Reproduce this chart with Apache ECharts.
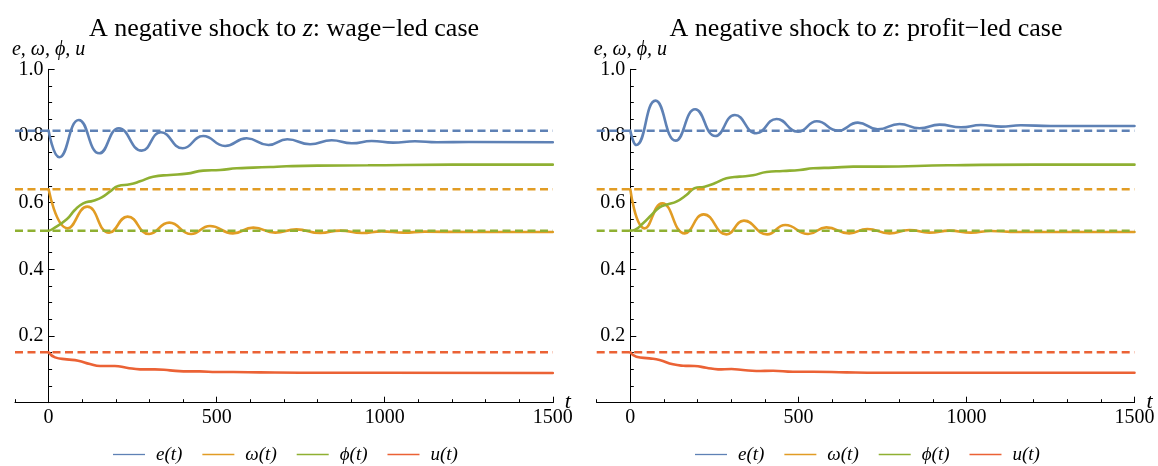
<!DOCTYPE html>
<html>
<head>
<meta charset="utf-8">
<script src="https://cdn.jsdelivr.net/npm/echarts@6/dist/echarts.min.js"></script>
<style>
  html, body { margin: 0; padding: 0; background: #fff; }
  #chart { width: 1158px; height: 466px; }
</style>
</head>
<body>
<div id="chart"></div>
<script>
// Wage-led case: [t, value]
const eWage = [[0,0.816],[32,0.736],[90,0.848],[151,0.748],[209,0.823],[277,0.756],[334,0.811],[399,0.763],[460,0.800],[525,0.770],[589,0.793],[654,0.773],[710,0.790],[778,0.775],[842,0.787],[902,0.778],[961,0.785],[1025,0.780],[1090,0.784],[1155,0.781],[1250,0.782],[1500,0.781]];
const omegaWage = [[0,0.640],[57,0.523],[115,0.588],[180,0.510],[235,0.558],[299,0.506],[359,0.540],[424,0.506],[480,0.530],[548,0.508],[609,0.525],[674,0.510],[737,0.520],[808,0.509],[867,0.516],[932,0.509],[991,0.514],[1056,0.510],[1120,0.513],[1250,0.512],[1500,0.512]];
const phiWage = [[0,0.516],[12,0.521],[54,0.550],[78,0.578],[103,0.598],[133,0.606],[158,0.616],[182,0.633],[207,0.650],[242,0.655],[272,0.664],[311,0.678],[361,0.683],[411,0.687],[460,0.696],[510,0.698],[560,0.703],[609,0.705],[659,0.707],[708,0.709],[800,0.711],[950,0.712],[1200,0.714],[1500,0.714]];
const uWage = [[0,0.151],[19,0.136],[54,0.130],[88,0.126],[123,0.116],[153,0.110],[197,0.110],[232,0.105],[272,0.100],[316,0.100],[361,0.097],[401,0.094],[450,0.094],[500,0.092],[549,0.092],[629,0.091],[748,0.090],[1000,0.090],[1500,0.089]];

// Profit-led case: [t, value]
const eProfit = [[0,0.816],[18,0.773],[75,0.906],[135,0.786],[193,0.880],[253,0.800],[311,0.863],[375,0.808],[435,0.851],[499,0.813],[555,0.844],[618,0.816],[677,0.840],[736,0.820],[801,0.836],[860,0.823],[920,0.834],[984,0.826],[1043,0.833],[1103,0.828],[1162,0.832],[1250,0.830],[1500,0.830]];
const omegaProfit = [[0,0.640],[43,0.523],[95,0.598],[162,0.508],[218,0.565],[286,0.505],[338,0.546],[407,0.505],[461,0.533],[529,0.506],[583,0.526],[651,0.508],[705,0.521],[771,0.508],[830,0.518],[890,0.510],[950,0.516],[1014,0.510],[1073,0.515],[1150,0.512],[1500,0.512]];
const phiProfit = [[0,0.516],[13,0.518],[38,0.538],[63,0.563],[87,0.586],[112,0.595],[137,0.603],[167,0.623],[191,0.643],[221,0.648],[251,0.658],[286,0.673],[325,0.678],[365,0.682],[405,0.692],[454,0.695],[504,0.698],[544,0.703],[603,0.705],[663,0.708],[742,0.708],[944,0.712],[1202,0.714],[1500,0.714]];
const uProfit = [[0,0.151],[18,0.138],[57,0.133],[87,0.128],[127,0.115],[157,0.111],[191,0.110],[226,0.105],[261,0.100],[301,0.101],[335,0.098],[375,0.095],[425,0.096],[484,0.093],[544,0.093],[643,0.091],[742,0.090],[1000,0.090],[1500,0.090]];

// steady-state levels (dashed), order e, ω, ϕ, u
const eqLevels = [0.816, 0.640, 0.516, 0.151];

const seriesNames = ['e(t)', 'ω(t)', 'ϕ(t)', 'u(t)'];
const xMajorTicks = [0, 500, 1000, 1500];

const SERIF = '"Liberation Serif", "DejaVu Serif", serif';
const colors = ['#5E81B5', '#E19C24', '#8FB032', '#EB6235'];
const black = '#000';

const panels = [
  { caseName: 'wage−led', left: 15, titleX: 284, legendLeft: 113, curves: [eWage, omegaWage, phiWage, uWage] },
  { caseName: 'profit−led', left: 596.7, titleX: 866, legendLeft: 695, curves: [eProfit, omegaProfit, phiProfit, uProfit] },
];
const gridWidth = 537.8;
// x axis runs from -100 to 1500, the y axis sits at t = 0
const yAxisShift = gridWidth / 16;

const chart = echarts.init(document.getElementById('chart'), null, { renderer: 'canvas' });

const option = {
  animation: false,
  backgroundColor: '#fff',
  title: [],
  legend: [],
  grid: [],
  xAxis: [],
  yAxis: [],
  series: [],
};

panels.forEach((p, i) => {
  option.title.push({
    text: '{n|A negative shock to }{i|z}{n|: ' + p.caseName + ' case}',
    left: p.titleX,
    top: 14,
    textAlign: 'center',
    padding: 0,
    textStyle: {
      fontWeight: 'normal',
      rich: {
        n: { fontFamily: SERIF, fontSize: 26, fontWeight: 'normal', color: black, lineHeight: 30 },
        i: { fontFamily: SERIF, fontSize: 26, fontWeight: 'normal', color: black, fontStyle: 'italic', lineHeight: 30 },
      },
    },
  });

  option.legend.push({
    data: seriesNames.map((n) => ({ name: n, icon: 'rect' })),
    left: p.legendLeft,
    top: 445,
    padding: 0,
    itemWidth: 32,
    itemHeight: 1.3,
    itemGap: 20,
    textStyle: { fontFamily: SERIF, fontSize: 19, fontStyle: 'italic', color: black, padding: [0, 0, 0, 6] },
  });

  option.grid.push({ left: p.left, width: gridWidth, top: 69.3, bottom: 63.3, outerBoundsMode: 'none', containLabel: false });

  // minor ticks every 100 + axis line
  option.xAxis.push({
    gridIndex: i,
    type: 'value',
    min: -100,
    max: 1500,
    interval: 100,
    position: 'bottom',
    axisLine: { onZero: false, lineStyle: { color: black, width: 1 } },
    axisTick: { inside: true, length: 3.5, lineStyle: { color: black } },
    axisLabel: { show: false },
    splitLine: { show: false },
    name: 't',
    nameLocation: 'end',
    nameGap: 12,
    nameTextStyle: { fontFamily: SERIF, fontSize: 22, fontStyle: 'italic', color: black, padding: [0, 0, 6, 0] },
  });
  // major ticks + labels
  option.xAxis.push({
    gridIndex: i,
    type: 'value',
    min: -100,
    max: 1500,
    position: 'bottom',
    offset: 0,
    axisLine: { show: false, onZero: false },
    axisTick: { inside: true, length: 6, customValues: xMajorTicks, lineStyle: { color: black } },
    axisLabel: { customValues: xMajorTicks, margin: 5, fontFamily: SERIF, fontSize: 20, color: black, formatter: (v) => String(v) },
    splitLine: { show: false },
  });

  option.yAxis.push({
    gridIndex: i,
    type: 'value',
    min: 0,
    max: 1,
    interval: 0.2,
    position: 'left',
    offset: -yAxisShift,
    axisLine: { onZero: false, lineStyle: { color: black, width: 1 } },
    axisTick: { inside: true, length: 6, lineStyle: { color: black } },
    minorTick: { show: true, splitNumber: 4, length: 3.5, lineStyle: { color: black } },
    axisLabel: {
      margin: 5,
      fontFamily: SERIF,
      fontSize: 20,
      color: black,
      formatter: (v) => (v === 0 ? '' : v.toFixed(1)),
    },
    splitLine: { show: false },
    name: 'e, ω, ϕ, u',
    nameLocation: 'end',
    nameGap: 14,
    nameTextStyle: { fontFamily: SERIF, fontSize: 20, fontStyle: 'italic', color: black, verticalAlign: 'middle' },
  });

  p.curves.forEach((data, k) => {
    option.series.push({
      name: seriesNames[k],
      type: 'line',
      xAxisIndex: 2 * i,
      yAxisIndex: i,
      data: data,
      symbol: 'none',
      smooth: 0.5,
      lineStyle: { color: colors[k], width: 2.6, cap: 'round' },
      itemStyle: { color: colors[k] },
    });
  });

  // dashed steady-state lines drawn on top
  eqLevels.forEach((lv, k) => {
    option.series.push({
      name: 'eq-' + k,
      type: 'line',
      xAxisIndex: 2 * i,
      yAxisIndex: i,
      data: [[-100, lv], [1500, lv]],
      symbol: 'none',
      silent: true,
      lineStyle: { color: colors[k], width: 2.5, type: [8, 4.5] },
    });
  });
});

chart.setOption(option);
</script>
</body>
</html>
